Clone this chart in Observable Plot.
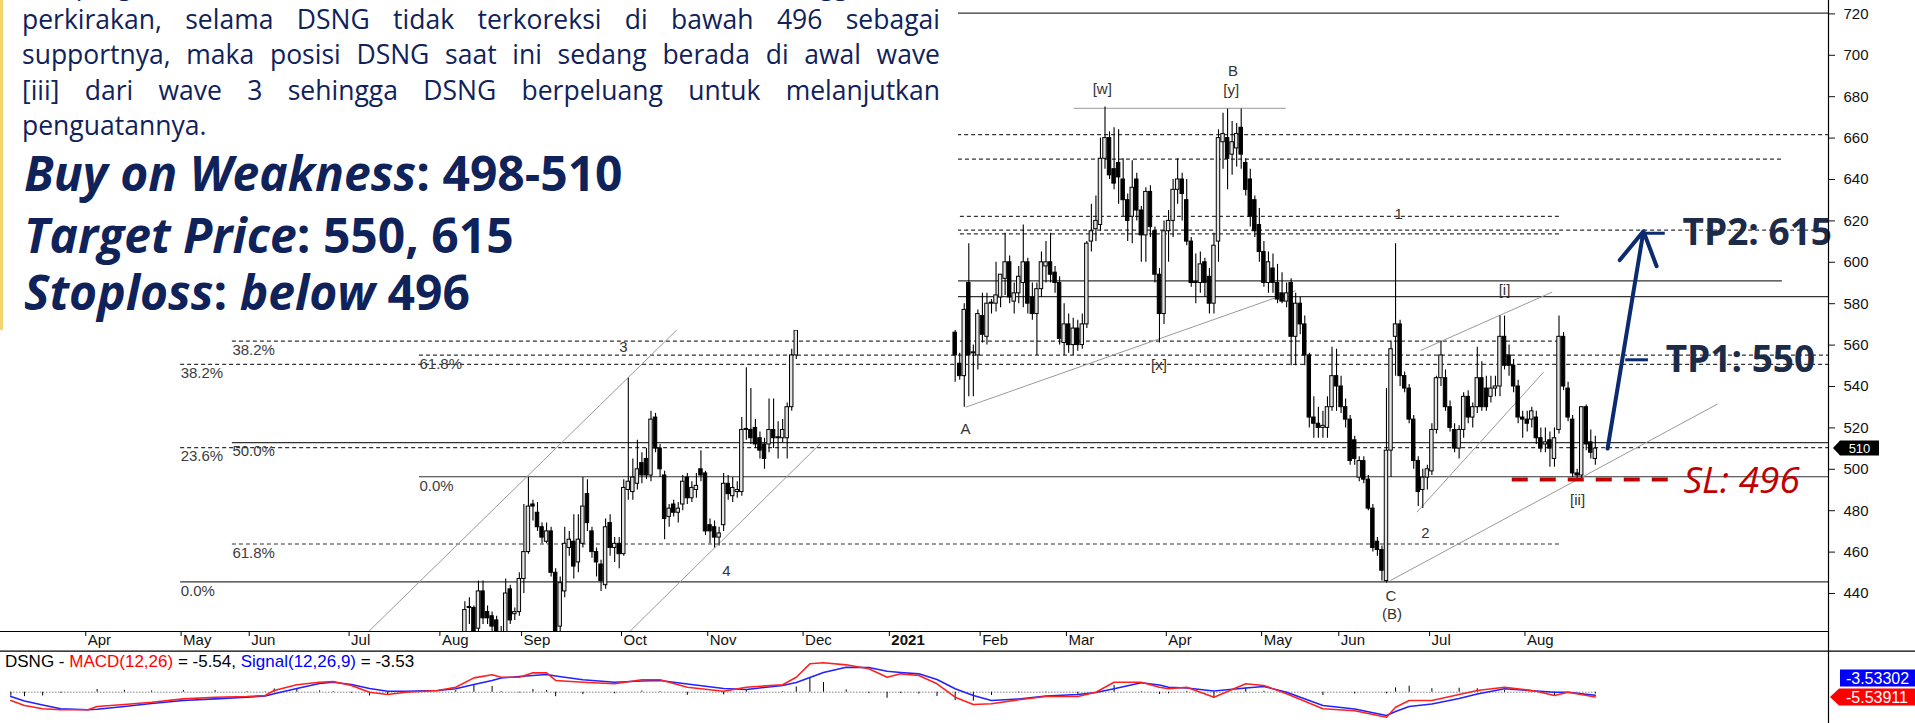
<!DOCTYPE html>
<html>
<head>
<meta charset="utf-8">
<script src="https://cdn.jsdelivr.net/npm/d3@7"></script>
<script src="https://cdn.jsdelivr.net/npm/@observablehq/plot@0.6"></script>
<style>
html,body{margin:0;padding:0;background:#fff;}
#wrap{position:relative;width:1915px;height:723px;overflow:hidden;background:#fff;}
#price,#macd{position:absolute;left:0;}
#price{top:0;} #macd{top:650px;}
#note{position:absolute;left:0;top:0;width:958px;height:330px;background:#fff;box-sizing:border-box;border-left:3px solid #f3d36b;overflow:hidden;color:#10225a;font-family:"Open Sans",sans-serif;}
#para{position:absolute;left:19px;top:-34px;width:918px;font-size:26.5px;line-height:35.5px;}
#para div{text-align:justify;text-align-last:justify;}
#para div.first{position:relative;top:1px;}
#para div.last{text-align-last:left;}
.big{position:absolute;left:21px;font-size:48px;font-weight:700;line-height:56px;white-space:nowrap;}
#macdTitle{position:absolute;left:5px;top:652px;font:17px "Liberation Sans",Arial,sans-serif;color:#000;white-space:nowrap;}
</style>
</head>
<body>
<div id="wrap">
  <div id="price"></div>
  <div id="macd"></div>
  <div id="note">
    <div id="para">
      <div class="first">ini, pergerakan DSNG masih berada dalam tren naik sehingga kami</div>
      <div>perkirakan, selama DSNG tidak terkoreksi di bawah 496 sebagai</div>
      <div>supportnya, maka posisi DSNG saat ini sedang berada di awal wave</div>
      <div>[iii] dari wave 3 sehingga DSNG berpeluang untuk melanjutkan</div>
      <div class="last">penguatannya.</div>
    </div>
    <div class="big" style="top:145px"><i>Buy on Weakness</i>: 498-510</div>
    <div class="big" style="top:207px"><i>Target Price</i>: 550, 615</div>
    <div class="big" style="top:264px"><i>Stoploss</i>: <i>below</i> 496</div>
  </div>
  <div id="macdTitle">DSNG - <span style="color:#ff0000">MACD(12,26)</span> = -5.54, <span style="color:#0000ff">Signal(12,26,9)</span> = -3.53</div>
</div>
<script>
// ---------- DATA ----------
// Daily candles [open, high, low, close]; trading-day index 1 = 1 Apr 2020
const startA = 84;
const candlesA = [
[420,436,415,432],[433,438,425,433],[433,434,418,421],[423,446,420,441],[441,446,425,428],
[431,434,425,428],[429,431,421,424],[427,429,418,421],[421,424,415,419],[420,447,418,440],
[442,444,425,427],[430,433,427,431],[431,450,429,447],[447,483,440,460],[460,496,459,482],
[483,485,475,482],[479,484,470,472],[472,474,464,467],[465,474,464,470],[470,472,448,450],
[450,452,415,420],[424,448,420,445],[441,472,438,464],[462,470,458,466],[465,478,447,453],
[455,478,450,466],[464,496,462,482],[488,495,470,474],[470,472,457,460],[460,462,448,455],
[454,456,441,446],[444,476,442,472],[474,478,458,462],[462,467,455,464],[464,467,452,459],
[459,495,458,491],[490,544,485,494],[489,505,485,496],[493,514,490,500],[503,508,493,497],
[505,510,495,497],[497,528,494,524],[525,527,508,510],[510,512,496,500],[497,499,466,476],
[477,483,472,481],[483,485,477,479],[479,484,474,481],[483,497,480,494],[496,498,483,486],
[486,494,484,491],[490,498,486,492],[500,509,494,497],[498,499,468,470],[473,476,464,470],
[472,475,462,467],[467,472,463,469],[473,498,470,493],[493,497,485,488],[487,496,484,491],
[489,494,486,490],[489,525,487,519],[519,549,514,519],[519,539,512,515],[520,524,510,512],
[515,518,505,509],[512,515,500,505],[512,534,508,519],[519,534,510,515],[515,523,505,515],
[515,524,513,519],[515,532,505,530],[530,558,528,555],[555,570,553,567]
];
const startB = 192;
const candlesB = [
[566,570,542,555],[551,556,543,545],[545,580,530,577],[590,609,535,555],[556,560,535,556],
[555,577,548,575],[574,585,561,565],[564,585,560,580],[580,582,575,580],[580,600,576,584],
[583,594,578,594],[592,614,584,600],[600,603,580,583],[581,590,575,585],[585,598,580,593],
[590,618,578,600],[600,602,575,580],[583,590,572,575],[575,590,555,587],[587,605,583,600],
[598,610,590,600],[600,614,590,594],[595,598,585,590],[590,593,560,563],[561,580,555,570],
[570,575,556,560],[560,573,555,568],[568,572,557,560],[560,575,558,570],[570,610,568,609],
[610,628,605,615],[616,632,610,620],[618,660,615,650],[650,675,645,660],[660,663,640,642],
[645,665,635,638],[648,664,628,641],[640,650,622,630],[630,633,610,620],[622,649,609,636],
[640,643,620,625],[625,627,600,613],[613,636,600,634],[634,637,612,617],[615,617,590,594],
[594,597,561,575],[575,620,570,615],[615,625,600,620],[620,640,612,635],[635,650,628,640],
[640,643,620,633],[630,640,608,610],[610,612,588,590],[590,604,580,590],[590,605,585,599],
[600,602,583,590],[593,597,575,580],[580,614,575,608],[610,664,600,660],[658,672,645,662],
[660,674,635,650],[652,668,642,658],[655,667,646,662],[665,674,645,652],[648,650,632,635],
[640,645,617,622],[630,632,612,615],[618,626,600,605],[605,610,588,590],[590,605,585,600],
[597,604,585,590],[590,599,580,582],[585,595,580,581],[581,590,578,585],[590,592,550,564],
[564,585,550,580],[580,583,565,570],[570,574,550,555],[555,556,520,525],[525,535,515,522],
[522,530,515,520],[520,528,515,521],[520,535,515,530],[530,559,528,545],[545,558,528,540],
[540,545,527,530],[530,534,520,524],[524,526,502,504],[514,516,502,505],[496,506,494,504],
[504,506,493,495],[495,497,480,481],[481,483,460,462],[465,467,458,461],[461,463,446,451],
[446,539,445,509],[509,562,496,558],[564,609,545,570],[570,572,540,545],[545,547,537,539],
[539,541,522,524],[524,526,500,504],[504,506,482,489],[490,500,481,496],[496,502,490,500],
[499,522,497,519],[519,545,517,544],[544,562,540,555],[544,548,528,530],[530,533,518,520],
[519,522,508,510],[510,521,505,519],[519,537,515,535],[535,538,522,525],[525,532,520,530],
[530,559,527,544],[544,552,528,530],[539,545,528,530],[535,545,532,539],[539,545,535,540],
[540,574,535,564],[564,574,548,550],[555,560,545,550],[550,553,537,540],[540,543,522,525],
[525,528,515,524],[524,528,518,522],[524,530,520,528],[525,528,512,515],[515,520,508,510],
[512,520,508,513],[514,518,501,510],[505,520,501,515],[519,574,517,564],[564,566,538,540],
[539,542,523,525],[524,526,496,498],[498,500,495,497],[497,530,495,530],[530,531,509,512],
[513,519,505,508],[505,516,502,510]
];

// Month axis: first trading-day index of each month, and labels
const monthFirst = [1,22,37,59,79,97,119,138,159,178,198,217,239,260,277,297,318];
const monthLabels = ["Apr","May","Jun","Jul","Aug","Sep","Oct","Nov","Dec","2021","Feb","Mar","Apr","May","Jun","Jul","Aug"];
const priceTicks = [440,460,480,500,520,540,560,580,600,620,640,660,680,700,720];

// Fibonacci / horizontal levels: [price, fromDay, toDay]
const levelsSolid = [[445.6,21.4,384.4],[583.4,21.4,384.4],[720.4,21.4,384.4],[512.9,32.8,384.4],[496.4,74,384.4],[591.0,74,374.2]];
const levelsDashed = [[510.5,21.4,384.4],[550.7,21.4,384.4],[615.5,21.4,384.4],[661.7,21.4,384.4],
  [622.2,32.8,325.3],[561.9,32.8,325.3],[463.9,32.8,325.3],[613.7,32.8,325.3],[555.2,74,384.4],[649.8,74,374.2]];
const fibText = ["38.2%","23.6%","0.0%","38.2%","50.0%","61.8%","61.8%","0.0%"];
const fibDay = [21.4,21.4,21.4,32.8,32.8,32.8,74,74];
const fibPrice = [550.7,510.5,445.6,561.9,512.9,463.9,555.2,496.4];

// Trend lines: [day1, price1, day2, price2]
const trendLines = [[62.8,421.6,131,568],[120.3,421.6,162.3,512.4],[194.3,530,267,586.3],
  [218.1,674.4,264.8,674.4],[287.9,446.3,359.9,531.5],[293.7,479.3,321.6,546.9],[294.5,557.4,323.5,585.6]];

// Elliott wave labels
const waveText = ["[w]","B","[y]","[x]","A","1","[i]","2","[ii]","C","(B)","3","4"];
const waveDay = [224.4,253.2,252.8,236.9,194.3,289.7,313,295.6,329.1,288,288.2,118.9,141.6];
const wavePrice = [683.8,692.3,683,550.1,519.6,623.4,586.7,469.1,484.9,438.6,430.2,559,450.8];

// Trading plan
const tp1 = 550, tp2 = 615, stopLoss = 496, lastPrice = 510;

// MACD(12,26) and Signal(9)
const macdDay = [-16,-13,-9,-5,1,3,9,15,22,29,36,40,42,47,52,55,59,63,67,71,78,82,86,90,92,96,99,102,104,110,117,123,127,133,141,146,154,157,160,163,168,173,177,180,184,188,192,196,200,206,212,219,223,227,233,237,239,243,249,256,260,265,273,280,287,289,292,297,303,307,313,320,324,327,333];
const macdVal = [-9.8,-15.6,-19.5,-20.7,-20.7,-16.8,-14.5,-11.8,-7.8,-5.9,-5.1,-3.9,2.0,8.7,11.8,12.6,7.9,0,-2.7,0,2.0,5.9,16.9,20.5,17.6,17.6,22.8,22.8,13.8,11.8,9.9,14.6,14.6,5.9,1.2,5.9,8.7,17.6,33.4,34.6,32.2,27.5,17.6,21.6,19.6,9.9,-5.9,-14.5,-13.6,-8.9,-5.1,-5.1,0,11.8,11.8,5.9,4.0,5.9,-5.9,9.9,7.9,-1.9,-19.5,-21.8,-29.4,-17.6,-9.8,-9.8,-2.7,2.0,5.9,1.2,-3.9,0,-5.54];
const signalVal = [-5.1,-10.4,-15.1,-19.5,-20.7,-20.0,-16.8,-13.3,-9.8,-7.8,-5.9,-4.5,-1.9,4.4,10.2,11.8,9.1,4.4,1.2,1.2,2.0,4.0,9.1,13.8,16.7,18.5,19.6,20.8,19.1,14.6,11.8,13.2,13.8,9.6,4.4,3.2,7.9,11.4,17.3,23.2,29.4,29.1,24.7,23.2,21.6,14.9,4.0,-3.9,-9.8,-8.0,-4.5,-2.7,-0.4,4.0,11.1,8.5,5.9,4.9,1.4,4.9,6.7,0,-15.6,-19.8,-27.4,-22.7,-16.8,-13.9,-7.4,-2.1,4.0,1.4,0,0,-3.53];

// ---------- BUILD ----------
const rows = [];
candlesA.forEach((c,k)=>rows.push({day:startA+k,o:c[0],h:c[1],l:c[2],c:c[3]}));
candlesB.forEach((c,k)=>rows.push({day:startB+k,o:c[0],h:c[1],l:c[2],c:c[3]}));
const up = rows.filter(r=>r.c>=r.o), down = rows.filter(r=>r.c<r.o);
const lastDay = rows[rows.length-1].day;
const half = 0.38;

const xDom = [-18.28, 384.36];
const yDom = [421.64, 726.47];
const pxPerUnit = 631/(yDom[1]-yDom[0]);
const months = monthFirst.map((d,i)=>({tick:d-0.5,label:monthLabels[i]}));
const fibs = fibText.map((t,i)=>({t,day:fibDay[i],p:fibPrice[i]}));
const waves = waveText.map((t,i)=>({t,day:waveDay[i],p:wavePrice[i]}));
const lv = a=>a.map(([p,a1,a2])=>({p,a1,a2}));
const tl = trendLines.map(([x1,y1,x2,y2])=>({x1,y1,x2,y2}));

function tag(value, label, fill, opt) {
  const {xOff=5, w=46, h=15, ptr=7, dy=0, fs=13, bold=false} = opt || {};
  return (index, scales, values, dim) => {
    const x0 = dim.width - dim.marginRight + xOff;
    const y0 = scales.y(value) + dy;
    const g = d3.create("svg:g");
    g.append("path").attr("d", `M${x0},${y0}L${x0+ptr},${y0-h/2}H${x0+w}V${y0+h/2}H${x0+ptr}Z`).attr("fill", fill);
    g.append("text").attr("x", x0+ptr+(w-ptr)/2).attr("y", y0).attr("dy","0.36em")
      .attr("text-anchor","middle").attr("fill","#fff").attr("font-size",fs)
      .attr("font-weight", bold?"bold":"normal")
      .attr("font-family","Liberation Sans, Arial, sans-serif").text(label);
    return g.node();
  };
}

const price = Plot.plot({
  width:1915, height:650, marginLeft:0, marginRight:87, marginTop:0, marginBottom:19,
  x:{domain:xDom, axis:null}, y:{domain:yDom, axis:null},
  style:{fontFamily:"Liberation Sans, Arial, sans-serif", background:"transparent", color:"#111"},
  marks:[
    Plot.ruleY(lv(levelsSolid), {y:"p", x1:"a1", x2:"a2", stroke:"#333", strokeWidth:1.2, clip:true}),
    Plot.ruleY(lv(levelsDashed), {y:"p", x1:"a1", x2:"a2", stroke:"#333", strokeWidth:1.2, strokeDasharray:"4,3", clip:true}),
    Plot.text(fibs, {x:"day", y:"p", text:"t", textAnchor:"start", dy:9, fontSize:15, fill:"#3c3c3c"}),
    Plot.link(tl, {x1:"x1", y1:"y1", x2:"x2", y2:"y2", stroke:"#9a9a9a", strokeWidth:1, clip:true}),
    Plot.ruleX(rows, {x:"day", y1:"l", y2:"h", stroke:"#000", strokeWidth:1.1, clip:true}),
    Plot.rect(up, {x1:d=>d.day-half, x2:d=>d.day+half, y1:"o", y2:d=>d.c===d.o?d.o+0.5:d.c, fill:"#e4e4e4", stroke:"#000", strokeWidth:1, clip:true}),
    Plot.rect(down, {x1:d=>d.day-half, x2:d=>d.day+half, y1:"o", y2:"c", fill:"#000", stroke:"#000", strokeWidth:1, clip:true}),
    Plot.text(waves, {x:"day", y:"p", text:"t", fontSize:15, fill:"#333"}),
    // trading plan annotations
    Plot.ruleY([stopLoss], {x1:314.7, x2:349.2, stroke:"#c00000", strokeWidth:4, strokeDasharray:"16,12", dy:2}),
    Plot.arrow([{a:lastDay+2.7, b:lastPrice, c:lastDay+10.6, d:tp2}], {x1:"a", y1:"b", x2:"c", y2:"d", stroke:"#0b2a6f", strokeWidth:4, headLength:14}),
    Plot.ruleY([tp2], {x1:343.6, x2:348.4, stroke:"#0b2a6f", strokeWidth:3, dy:2}),
    Plot.ruleY([tp1], {x1:339.7, x2:344.7, stroke:"#0b2a6f", strokeWidth:3, dy:-6}),
    Plot.text([tp2], {x:352.2, y:d=>d, text:d=>`TP2: ${d}`, textAnchor:"start", dy:2, fontSize:37, fontWeight:"bold", fontFamily:"Open Sans", fill:"#1b2b48"}),
    Plot.text([tp1], {x:348.5, y:d=>d, text:d=>`TP1: ${d}`, textAnchor:"start", dy:-6, fontSize:37, fontWeight:"bold", fontFamily:"Open Sans", fill:"#1b2b48"}),
    Plot.text([stopLoss], {x:352.4, y:d=>d, text:d=>`SL: ${d}`, textAnchor:"start", dy:4, fontSize:37, fontStyle:"italic", fontFamily:"Open Sans", fill:"#c00000"}),
    // frame and axes
    Plot.ruleY([yDom[0]], {stroke:"#000", strokeWidth:1.2}),
    Plot.ruleX([xDom[1]], {y1:yDom[1], y2:yDom[0]-19/pxPerUnit, stroke:"#000", strokeWidth:1.2}),
    Plot.axisY({anchor:"right", ticks:priceTicks, tickSize:6, tickPadding:9, fontSize:15, label:null}),
    Plot.ruleX(months, {x:"tick", y1:yDom[0], y2:yDom[0]-5/pxPerUnit, stroke:"#000"}),
    Plot.text(months.filter(m=>m.label!=="2021"), {x:"tick", y:yDom[0], text:"label", textAnchor:"start", dx:2, dy:9, fontSize:15}),
    Plot.text(months.filter(m=>m.label==="2021"), {x:"tick", y:yDom[0], text:"label", textAnchor:"start", dx:2, dy:9, fontSize:15, fontWeight:"bold"}),
    tag(lastPrice, String(lastPrice), "#000", {xOff:5, w:46, h:15, ptr:7})
  ]
});
document.getElementById("price").appendChild(price);

const mrows = macdDay.map((d,i)=>({day:d, m:macdVal[i], s:signalVal[i]}));
const mDom = [-36.8, 49.06];
const mPx = 73/(mDom[1]-mDom[0]);
const macd = Plot.plot({
  width:1915, height:73, marginLeft:0, marginRight:87, marginTop:0, marginBottom:0,
  x:{domain:xDom, axis:null}, y:{domain:mDom, axis:null},
  style:{fontFamily:"Liberation Sans, Arial, sans-serif", background:"transparent"},
  marks:[
    Plot.ruleY([0], {x1:macdDay[0], x2:macdDay[macdDay.length-1], stroke:"#444", strokeDasharray:"1,2"}),
    Plot.ruleX(mrows, {x:"day", y1:0, y2:d=>d.m-d.s, stroke:"#000"}),
    Plot.line(mrows, {x:"day", y:"s", stroke:"#2222ff", strokeWidth:1.6}),
    Plot.line(mrows, {x:"day", y:"m", stroke:"#ff2020", strokeWidth:1.6}),
    Plot.ruleX([xDom[1]], {stroke:"#000", strokeWidth:1.2}),
    Plot.ruleY([mDom[1]-0.6/mPx], {x1:xDom[0], x2:xDom[1]+87*(xDom[1]-xDom[0])/1828, stroke:"#000", strokeWidth:1.2}),
    tag(signalVal[signalVal.length-1], "-3.53302", "#0000ff", {xOff:12, w:75, h:17, ptr:0, dy:-16.7, fs:16}),
    tag(macdVal[macdVal.length-1], "-5.53911", "#ff0000", {xOff:2, w:85, h:17, ptr:9, dy:0.6, fs:16})
  ]
});
document.getElementById("macd").appendChild(macd);
</script>
</body>
</html>
